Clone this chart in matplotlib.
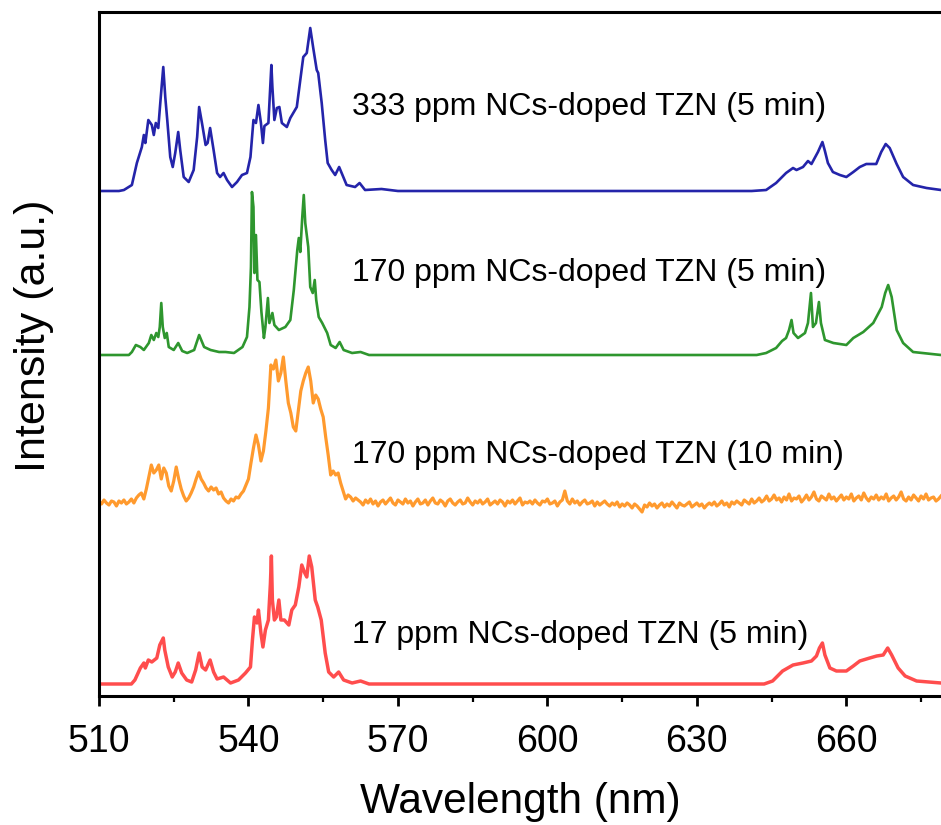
import numpy as np
import matplotlib
matplotlib.use("Agg")
import matplotlib.pyplot as plt
from matplotlib.ticker import MultipleLocator

plt.rcParams['font.family'] = ['Liberation Sans', 'DejaVu Sans']

# ---- spectra: (wavelength nm, intensity a.u.) ----
blue_pts = [
    (510, 0), (514, 0), (515, 1), (516.6, 6), (517.6, 28), (518.6, 44), (519, 56),
    (519.3, 48), (519.9, 71), (520.6, 66), (521, 56), (521.4, 68), (521.9, 63),
    (522.3, 88), (522.9, 124), (523.3, 94), (523.7, 71), (524.3, 34), (524.8, 24),
    (525.3, 38), (525.9, 59), (526.3, 41), (527, 14), (528, 9), (529, 21),
    (529.7, 54), (530.1, 84), (530.7, 67), (531.4, 46), (531.8, 48), (532.3, 63),
    (533, 41), (533.7, 18), (534.3, 14), (535, 18), (535.7, 11), (536.7, 4),
    (537.7, 9), (538.7, 16), (539.7, 18), (540.4, 34), (541, 71), (541.5, 68),
    (542, 86), (542.5, 68), (542.9, 48), (543.2, 65), (544, 68), (544.6, 126),
    (544.8, 104), (545.2, 71), (545.7, 83), (546.2, 84), (546.7, 68), (547.7, 64),
    (548.4, 73), (549.7, 84), (550.4, 111), (551, 134), (551.7, 138), (552.4, 163),
    (553, 143), (553.7, 121), (554, 118), (554.7, 88), (555.4, 51), (555.9, 28),
    (556.7, 21), (557.4, 16), (558.2, 24), (558.7, 18), (559.7, 6), (561.4, 4),
    (562.3, 8), (563.4, 1), (566.7, 2), (570, 0), (600, 0), (641, 0),
    (643.9, 1), (645.9, 8), (647.9, 18), (649.3, 23), (650, 21), (651.3, 24),
    (652.3, 30), (653, 27), (654.3, 39), (655.2, 49), (655.7, 40), (656.3, 28),
    (657.3, 19), (658.7, 16), (660, 14), (661.4, 19), (662.7, 24), (664, 27),
    (666, 27), (667, 39), (667.9, 47), (668.7, 43), (670.1, 27), (671.4, 14),
    (673.4, 6), (676.1, 3), (679, 1),
]

green_pts = [
    (510, 0), (516, 0), (516.6, 3), (517.4, 10), (518.3, 8), (519, 5), (520, 12),
    (520.5, 20), (521, 15), (521.5, 22), (521.9, 18), (522.2, 28), (522.5, 52),
    (522.8, 28), (523.2, 17), (523.6, 22), (524, 8), (525, 5), (525.9, 12),
    (526.7, 4), (527.7, 2), (529.1, 5), (530.1, 20), (531.1, 8), (532.4, 5),
    (534.1, 3), (535.4, 3), (537.1, 2), (538.8, 8), (539.7, 18), (540.2, 48),
    (540.5, 88), (540.7, 163), (541, 148), (541.2, 82), (541.5, 120), (541.8, 75),
    (542.2, 73), (542.6, 43), (543.1, 17), (543.4, 28), (543.9, 57), (544.2, 32),
    (544.8, 42), (545.2, 30), (546.1, 25), (547.4, 28), (548.4, 35), (549.1, 65),
    (549.8, 105), (550.1, 117), (550.4, 103), (550.8, 138), (551.1, 160),
    (551.4, 132), (552, 108), (552.4, 68), (552.9, 62), (553.3, 75), (553.6, 55),
    (554.1, 38), (554.8, 32), (555.8, 22), (556.5, 10), (557.5, 7), (558.3, 13),
    (559.1, 5), (560.8, 2), (562.5, 3), (564.2, 0), (600, 0), (642, 0),
    (643.9, 2), (645.9, 7), (647.1, 14), (647.9, 17), (648.5, 25), (649, 35),
    (649.4, 22), (650.3, 17), (651.7, 22), (652.3, 32), (652.9, 62), (653.3, 28),
    (653.9, 32), (654.5, 53), (654.9, 32), (655.7, 15), (657.4, 12), (660, 10),
    (661.4, 17), (663.4, 23), (665.4, 32), (667.1, 48), (667.8, 62), (668.4, 70),
    (669.1, 58), (670.1, 25), (671.4, 12), (673.4, 3), (679, 0),
]

# orange spectrum (noisy), sampled every 0.5 nm outside the main bands
orange_head = [2, -1, 3, 0, -2, 2, 1, -3, 2, 0, 3, -1, 1, 4, 0]          # 510-517 nm
orange_band_pts = [
    (517.5, 5), (518, 8), (518.5, 10), (519, 4), (519.5, 14), (520, 26),
    (520.5, 38), (521, 30), (521.5, 33), (522, 38), (522.5, 24), (523, 35),
    (523.5, 30), (524, 17), (524.5, 12), (525, 22), (525.5, 36), (526, 24),
    (526.5, 14), (527, 7), (527.5, 2), (528, 5), (528.5, 10), (529, 16),
    (529.5, 24), (530, 31), (530.5, 24), (531, 20), (531.5, 15), (532, 12),
    (532.5, 16), (533, 13), (533.5, 15), (534, 9), (534.5, 11), (535, 5),
    (535.5, 2), (536, 0), (536.5, 4), (537, 2), (537.5, 6), (538, 5),
    (538.5, 9), (539, 12), (539.5, 18), (540, 24), (540.5, 40), (541, 55),
    (541.5, 68), (542, 58), (542.5, 42), (543, 52), (543.5, 72), (544, 95),
    (544.5, 138), (545, 134), (545.5, 143), (546, 122), (546.5, 130),
    (547, 146), (547.5, 122), (548, 100), (548.5, 90), (549, 76), (549.5, 72),
    (550, 92), (550.5, 112), (551, 122), (551.5, 130), (552, 136), (552.5, 122),
    (553, 100), (553.5, 108), (554, 104), (554.5, 94), (555, 86), (555.5, 66),
    (556, 48), (556.5, 28), (557, 32), (557.5, 28), (558, 30), (558.5, 20),
    (559, 12), (559.5, 4), (560, 8), (560.5, 6), (561, 2), (561.5, 5), (562, 3),
]
orange_tail = [                                                        # 562.5-679 nm
    1, -2, 3, 0, 4, -1, 2, -3, 1, 3,
    -1, 2, 5, 0, -2, 3, 1, -1, 4, 0,
    2, -3, 1, 4, -1, 0, 3, -2, 2, 5,
    0, -1, 3, 1, -3, 2, 4, 0, -2, 1,
    3, -1, 0, 5, 1, -2, 2, 0, 3, -1,
    1, 4, -2, 0, 2, -1, 3, 1, -3, 2,
    0, 3, -1, 2, 5, -2, 1, 0, 2, -1,
    3, 0, -2, 2, 1, 4, -1, 0, 2, -3,
    1, 3, 12, 2, -1, 4, 0, 2, -2, 1,
    3, -1, 0, 2, -3, 1, -2, 0, 2, -1,
    -3, 0, -2, 1, -4, -1, -3, 0, -2, -5,
    -1, -3, -6, -9, -2, -4, 0, -3, -1, -5,
    -2, 0, -4, -1, -3, 1, -2, -5, 0, -2,
    -3, -1, 1, -4, -2, 0, -3, -1, -5, -2,
    0, -2, 1, -3, -1, 2, -2, 0, -4, 1,
    -1, 2, 0, -2, 3, 1, -1, 4, 0, 2,
    5, 1, 3, 7, 2, 4, 8, 3, 5, 1,
    6, 3, 9, 2, 5, 4, 7, 1, 4, 8,
    3, 6, 11, 4, 2, 7, 5, 3, 9, 4,
    6, 2, 5, 8, 3, 6, 4, 9, 2, 5,
    7, 3, 10, 5, 2, 6, 4, 8, 3, 6,
    4, 9, 2, 5, 7, 3, 6, 11, 4, 2,
    6, 3, 8, 5, 2, 7, 4, 9, 3, 5,
    6, 2, 4, 7,
]

red_pts = [
    (510, 0), (516.5, 0), (517.2, 4), (518.3, 16), (519, 21), (519.3, 16),
    (519.9, 24), (520.6, 22), (521.6, 26), (522.2, 39), (522.9, 46), (523.2, 34),
    (523.9, 17), (524.7, 7), (525.3, 12), (525.9, 21), (526.6, 11), (527.6, 4),
    (528.6, 2), (529.4, 14), (530.1, 31), (530.7, 17), (531.4, 14), (532.3, 24),
    (533, 12), (533.7, 5), (535, 7), (536.4, 1), (538, 4), (539.4, 11),
    (540.4, 17), (540.8, 44), (541.2, 67), (541.7, 61), (542, 74), (542.5, 51),
    (542.9, 37), (543.4, 54), (544, 64), (544.4, 100), (544.6, 128), (544.8, 84),
    (545.2, 64), (545.6, 67), (546.1, 84), (546.5, 64), (547.2, 64), (548.1, 59),
    (548.7, 74), (549.4, 79), (550.1, 97), (550.7, 119), (551.3, 111),
    (551.7, 107), (552.2, 128), (552.7, 117), (553.4, 84), (553.9, 77),
    (554.6, 64), (555.4, 31), (556.1, 12), (557.1, 7), (558.1, 12), (559.1, 4),
    (560.8, 1), (562.5, 3), (564.2, 0), (600, 0), (643.5, 0),
    (645.2, 3), (647.2, 13), (649.3, 19), (651.3, 21), (653, 23), (654, 28),
    (654.6, 36), (655.2, 41), (655.7, 29), (656.7, 16), (658, 13), (660, 13),
    (661.4, 18), (662.7, 23), (664.7, 26), (666.1, 28), (667.4, 29), (668.3, 36),
    (669.1, 29), (670.4, 16), (671.8, 8), (674.1, 3), (679, 1),
]

labels = [
    "333 ppm NCs-doped TZN (5 min)",
    "170 ppm NCs-doped TZN (5 min)",
    "170 ppm NCs-doped TZN (10 min)",
    "17 ppm NCs-doped TZN (5 min)",
]
colors = ["#2424AA", "#2E962E", "#FF9A2E", "#FF4D4D"]
offsets = [505, 341, 193, 12]          # vertical stacking of the spectra
label_y = [589, 423, 241, 61]
widths = [1.9, 1.9, 2.3, 2.5]


def unpack(pts):
    a = np.array(pts, dtype=float)
    return a[:, 0], a[:, 1]


blue_wl, blue_int = unpack(blue_pts)
green_wl, green_int = unpack(green_pts)
band_wl, band_int = unpack(orange_band_pts)
orange_wl = np.concatenate([510 + 0.5 * np.arange(len(orange_head)), band_wl,
                            562.5 + 0.5 * np.arange(len(orange_tail))])
orange_int = np.concatenate([orange_head, band_int, orange_tail]).astype(float)
red_wl, red_int = unpack(red_pts)

series = [(blue_wl, blue_int), (green_wl, green_int),
          (orange_wl, orange_int), (red_wl, red_int)]

fig = plt.figure(figsize=(9.41, 8.25), dpi=100)
ax = fig.add_axes([99 / 941, 129 / 825, 1 - 99 / 941, 684 / 825])

for (wl, inten), off, c, lw in zip(series, offsets, colors, widths):
    ax.plot(wl, inten + off, color=c, lw=lw, solid_joinstyle='round')

for txt, y in zip(labels, label_y):
    ax.text(560.8, y, txt, fontsize=23, va='center', ha='left', color='black')

ax.set_xlim(510, 679)
ax.set_ylim(0, 684)
ax.xaxis.set_major_locator(MultipleLocator(30))
ax.xaxis.set_minor_locator(MultipleLocator(15))
ax.set_yticks([])
ax.spines['right'].set_visible(False)
for s in ['left', 'top', 'bottom']:
    ax.spines[s].set_linewidth(2.2)
ax.tick_params(axis='x', which='major', direction='out', length=7, width=2.0,
               labelsize=27, pad=13)
ax.tick_params(axis='x', which='minor', direction='out', length=4, width=1.6)
ax.set_xlabel("Wavelength (nm)", fontsize=30.5, labelpad=16)
ax.set_ylabel("Intensity (a.u.)", fontsize=31)
ax.yaxis.label.set_va('center')
ax.yaxis.set_label_coords(-0.077, 0.526)

fig.savefig("out.png", dpi=100)
